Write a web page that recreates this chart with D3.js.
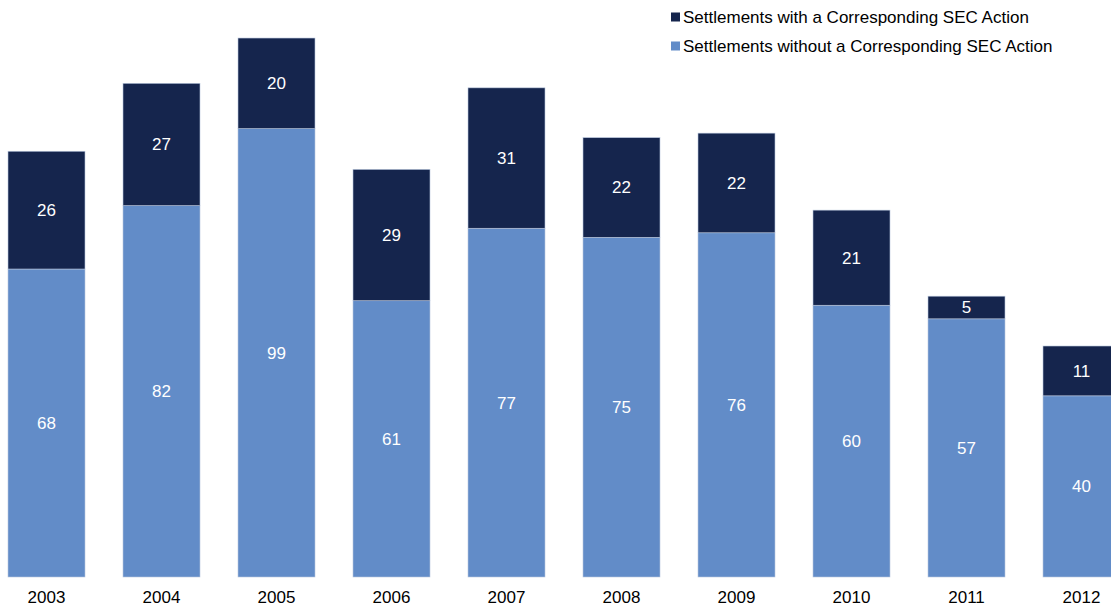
<!DOCTYPE html>
<html>
<head>
<meta charset="utf-8">
<script src="https://cdn.jsdelivr.net/npm/d3@7"></script>
<style>
  html, body { margin: 0; padding: 0; background: #fff; overflow: hidden; }
  svg { display: block; font-family: "Liberation Sans", Arial, sans-serif; }
</style>
</head>
<body>
<svg id="chart" width="1111" height="607"></svg>
<script>
// Settlements per year, split by whether a corresponding SEC action exists
const years = ["2003", "2004", "2005", "2006", "2007", "2008", "2009", "2010", "2011", "2012"];
const withoutSEC = [68, 82, 99, 61, 77, 75, 76, 60, 57, 40];
const withSEC = [26, 27, 20, 29, 31, 22, 22, 21, 5, 11];
const seriesNames = ["Settlements with a Corresponding SEC Action", "Settlements without a Corresponding SEC Action"];

const colorWith = "#15254d";
const colorWithout = "#628cc8";

const svg = d3.select("#chart");

const x = d3.scaleBand()
  .domain(years)
  .range([-11, 1139])
  .paddingInner(38 / 115)
  .paddingOuter(19 / 115);

const y = d3.scaleLinear()
  .domain([0, 120])
  .range([577, 33.5]);

const rows = years.map((yr, i) => ({ year: yr, without: withoutSEC[i], with: withSEC[i] }));
const stacked = d3.stack().keys(["without", "with"])(rows);
const fills = { without: colorWithout, with: colorWith };

const layers = svg.append("g").selectAll("g")
  .data(stacked)
  .join("g")
  .attr("fill", d => fills[d.key]);

layers.selectAll("rect")
  .data(d => d.map(s => ({ s, key: d.key })))
  .join("rect")
  .attr("x", d => x(d.s.data.year))
  .attr("width", x.bandwidth())
  .attr("y", d => y(d.s[1]))
  .attr("height", d => y(d.s[0]) - y(d.s[1]))
  .attr("stroke", "#b8c6dc")
  .attr("stroke-width", 0.6);

// Value labels centred in each segment
layers.selectAll("text")
  .data(d => d.map(s => ({ s, key: d.key })))
  .join("text")
  .attr("x", d => x(d.s.data.year) + x.bandwidth() / 2)
  .attr("y", d => (y(d.s[0]) + y(d.s[1])) / 2)
  .attr("dy", "0.35em")
  .attr("text-anchor", "middle")
  .attr("fill", "#ffffff")
  .attr("font-size", 17)
  .text(d => d.s.data[d.key]);

// Category axis
const xAxis = svg.append("g")
  .attr("transform", "translate(0,577)")
  .call(d3.axisBottom(x).tickSize(0).tickPadding(14));
xAxis.select(".domain").remove();
xAxis.selectAll("text")
  .attr("font-family", "Liberation Sans, Arial, sans-serif")
  .attr("font-size", 17)
  .attr("fill", "#000");

// Legend
const legend = svg.append("g").attr("transform", "translate(671,0)");
const legendItems = [
  { name: seriesNames[0], color: colorWith, cy: 17 },
  { name: seriesNames[1], color: colorWithout, cy: 46 }
];
const li = legend.selectAll("g").data(legendItems).join("g")
  .attr("transform", d => `translate(0,${d.cy})`);
li.append("rect")
  .attr("x", 0).attr("y", -4.5)
  .attr("width", 9).attr("height", 9)
  .attr("fill", d => d.color);
li.append("text")
  .attr("x", 12)
  .attr("dy", "0.35em")
  .attr("font-size", 17)
  .attr("fill", "#000")
  .text(d => d.name);
</script>
</body>
</html>
